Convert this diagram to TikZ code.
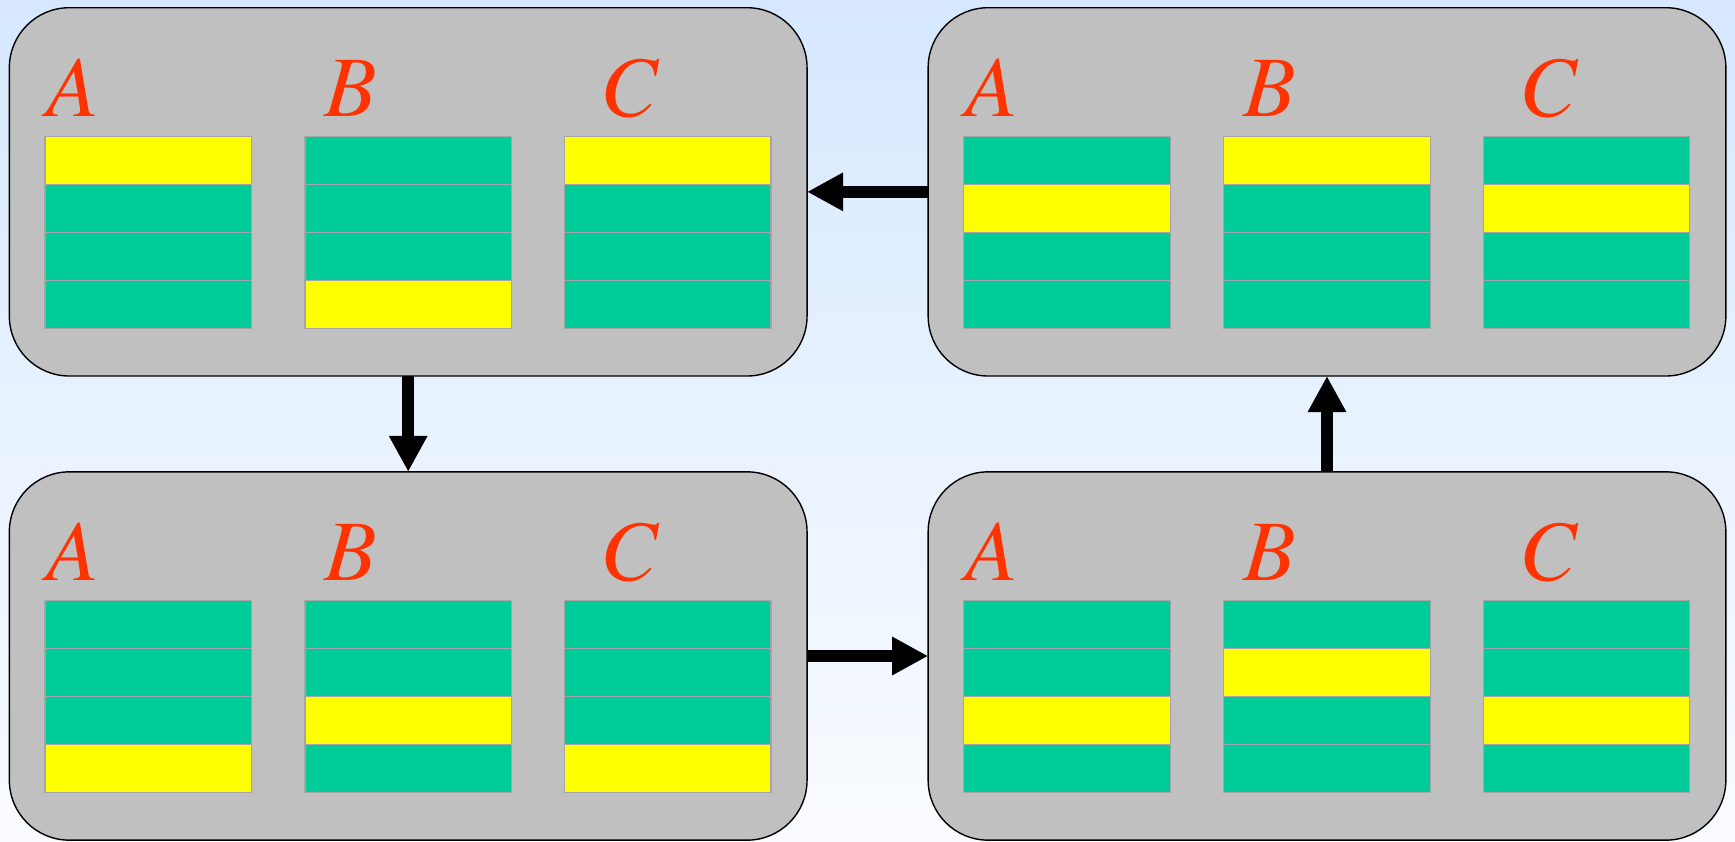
\documentclass[tikz,border=0pt]{standalone}
\usepackage{fontspec}
\setmainfont{texgyretermes}[Extension=.otf, UprightFont=*-regular, ItalicFont=*-italic,
  BoldFont=*-bold, BoldItalicFont=*-bolditalic]
\usetikzlibrary{arrows.meta}

\definecolor{bgtop}{RGB}{214,232,255}
\definecolor{bgbot}{RGB}{250,252,255}
\definecolor{panelgray}{RGB}{192,192,192}
\definecolor{cellgreen}{RGB}{0,204,153}
\definecolor{cellyellow}{RGB}{255,255,0}
\definecolor{celledge}{RGB}{165,165,165}
\definecolor{letterred}{RGB}{255,51,0}

\tikzset{
  panel/.style={draw=black, line width=1.4pt, fill=panelgray, rounded corners=60pt,
    minimum width=797.7pt, minimum height=368.3pt, inner sep=0pt, outer sep=0pt},
  cell/.style={draw=celledge, line width=1.2pt, minimum width=206.5pt, minimum height=47.9pt,
    inner sep=0pt, outer sep=0pt, anchor=north west},
  letter/.style={text=letterred, anchor=base west, inner sep=0pt,
    font=\fontsize{86}{86}\selectfont\itshape},
  flow/.style={line width=11.5pt, -{Triangle[length=36pt,width=36pt]}}
}

% One state: a panel with columns A, B, C of four cells;
% arguments 4-6 give the row of the highlighted cell in each column.
\newcommand\statepanel[6]{%
  \node[panel] (#1) at (#2,#3) {};
  \foreach \col/\dx/\lx/\hot in {A/35.7/36.7/#4, B/295.7/314.7/#5, C/555.2/591/#6} {
    \node[letter] (#1-\col) at ([xshift=\lx pt, yshift=-108.8pt]#1.north west) {\col};
    \foreach \r in {1,...,4} {
      \ifnum\r=\hot\relax \def\cellfill{cellyellow}\else \def\cellfill{cellgreen}\fi
      \node[cell, fill=\cellfill] (#1-\col\r)
        at ([xshift=\dx pt, yshift={-129pt-(\r-1)*47.9pt}]#1.north west) {};
    }
  }
}

\begin{document}
\begin{tikzpicture}[x=1pt, y=-1pt]
  \useasboundingbox (0,0) rectangle (1735,841);
  \shade[top color=bgtop, bottom color=bgbot] (0,0) rectangle (1735,841);

  \statepanel{tl}{408.2}{191.85}{1}{4}{1}
  \statepanel{tr}{1327}{191.85}{2}{1}{2}
  \statepanel{bl}{408.2}{656}{4}{3}{4}
  \statepanel{br}{1327}{656}{3}{2}{3}

  \draw[flow] (tl.south) -- (bl.north);
  \draw[flow] (bl.east) -- (br.west);
  \draw[flow] (br.north) -- (tr.south);
  \draw[flow] (tr.west) -- (tl.east);
\end{tikzpicture}
\end{document}
